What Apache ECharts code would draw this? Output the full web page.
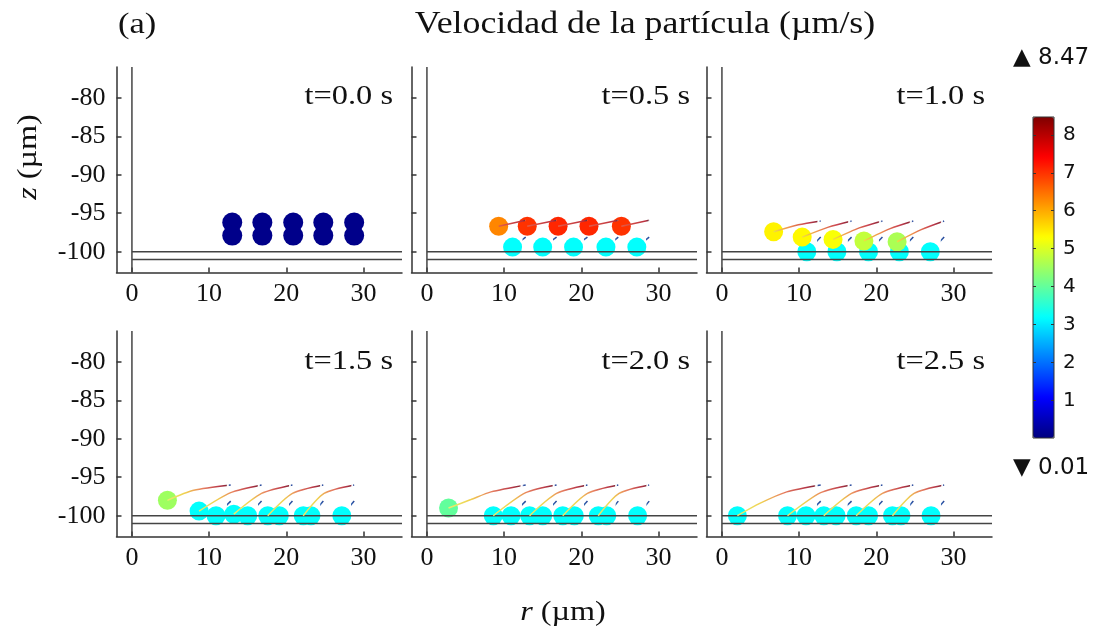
<!DOCTYPE html>
<html>
<head>
<meta charset="utf-8">
<script src="https://cdn.jsdelivr.net/npm/echarts@6/dist/echarts.min.js"></script>
<style>
html, body { margin: 0; padding: 0; background: #fff; }
#chart { width: 1114px; height: 630px; }
</style>
</head>
<body>
<div id="chart"></div>
<script>
// etiquetas y ticks
const panelTimes = ['t=0.0 s', 't=0.5 s', 't=1.0 s', 't=1.5 s', 't=2.0 s', 't=2.5 s'];
const rTicks = [0, 10, 20, 30];
const zTicks = [-100, -95, -90, -85, -80];
const colorbarTicks = [1, 2, 3, 4, 5, 6, 7, 8];
const vMin = 0.01, vMax = 8.47;

// geometria: pared r=0 y superficies z
const wallR = 0;
const surfaceZ = [-100, -101];

// particulas [r, z, velocidad]
const particles00 = [
    [13.0, -96.2, 0.1], [16.9, -96.2, 0.1], [20.9, -96.2, 0.1], [24.8, -96.2, 0.1], [28.8, -96.2, 0.1],
    [13.0, -97.9, 0.1], [16.9, -97.9, 0.1], [20.9, -97.9, 0.1], [24.8, -97.9, 0.1], [28.8, -97.9, 0.1]
];
const particles05 = [
    [11.1, -99.4, 3.2], [15.0, -99.4, 3.2], [19.0, -99.4, 3.2], [23.2, -99.4, 3.2], [27.2, -99.4, 3.2],
    [9.3, -96.7, 6.3], [13.0, -96.7, 7.0], [17.0, -96.7, 7.1], [21.0, -96.7, 7.1], [25.2, -96.7, 7.0]
];
const particles10 = [
    [11.0, -100.0, 3.2], [14.9, -100.0, 3.2], [19.0, -100.0, 3.2], [23.0, -100.0, 3.2], [27.0, -100.0, 3.2],
    [6.7, -97.4, 5.4], [10.4, -98.1, 5.35], [14.4, -98.4, 5.25], [18.4, -98.6, 4.8], [22.7, -98.7, 4.6]
];
const particles15 = [
    [8.7, -99.4, 3.2], [10.9, -100.0, 3.2], [13.2, -99.8, 3.2], [15.0, -100.0, 3.2], [17.6, -100.0, 3.2],
    [19.1, -100.0, 3.2], [22.2, -100.0, 3.2], [23.2, -100.0, 3.2], [27.2, -100.0, 3.2],
    [4.6, -98.0, 4.5]
];
const particles20 = [
    [8.6, -100.0, 3.2], [10.9, -100.0, 3.2], [13.3, -100.0, 3.2], [15.0, -100.0, 3.2], [17.6, -100.0, 3.2],
    [19.1, -100.0, 3.2], [22.2, -100.0, 3.2], [23.3, -100.0, 3.2], [27.3, -100.0, 3.2],
    [2.8, -99.0, 4.0]
];
const particles25 = [
    [2.0, -100.0, 3.2], [8.5, -100.0, 3.2], [10.9, -100.0, 3.2], [13.2, -100.0, 3.2], [14.8, -100.0, 3.2],
    [17.4, -100.0, 3.2], [19.0, -100.0, 3.2], [22.1, -100.0, 3.2], [23.2, -100.0, 3.2], [27.1, -100.0, 3.2]
];

// trayectorias [r, z] (fila superior e inferior)
const trailsUp05 = [
    [[9.3, -96.7], [12.8, -95.9]],
    [[13.0, -96.7], [16.8, -95.9]],
    [[17.0, -96.7], [20.8, -95.9]],
    [[21.0, -96.7], [24.8, -95.9]],
    [[25.2, -96.7], [28.8, -95.9]]
];
const trailsLow05 = [
    [[11.1, -99.4], [12.8, -98.1]],
    [[15.0, -99.4], [16.8, -98.1]],
    [[19.0, -99.4], [20.8, -98.1]],
    [[23.2, -99.4], [24.8, -98.1]],
    [[27.2, -99.4], [28.8, -98.1]]
];
const trailsUp10 = [
    [[6.7, -97.4], [9.9, -96.5], [12.8, -96.0]],
    [[10.4, -98.1], [13.8, -96.8], [16.8, -96.0]],
    [[14.4, -98.4], [17.8, -96.9], [20.8, -96.0]],
    [[18.4, -98.6], [21.8, -97.0], [24.8, -96.0]],
    [[22.7, -98.7], [25.9, -97.1], [28.8, -96.0]]
];
const trailsLow10 = [
    [[11.0, -100.0], [12.8, -98.1]],
    [[14.9, -100.0], [16.8, -98.1]],
    [[19.0, -100.0], [20.8, -98.1]],
    [[23.0, -100.0], [24.8, -98.1]],
    [[27.0, -100.0], [28.8, -98.1]]
];
const trailsUp15 = [
    [[4.6, -98.0], [8.0, -96.7], [12.8, -96.0]],
    [[8.7, -99.4], [12.8, -97.0], [16.8, -96.0]],
    [[13.2, -99.8], [16.8, -97.1], [20.8, -96.0]],
    [[17.6, -100.0], [20.8, -97.1], [24.8, -96.0]],
    [[22.2, -100.0], [24.9, -97.1], [28.8, -96.0]]
];
const trailsLow15 = [
    [[10.9, -100.0], [12.8, -98.1]],
    [[15.0, -100.0], [16.8, -98.1]],
    [[19.1, -100.0], [20.8, -98.1]],
    [[23.2, -100.0], [24.8, -98.1]],
    [[27.2, -100.0], [28.8, -98.1]]
];
const trailsUp20 = [
    [[2.8, -99.0], [5.7, -97.9], [8.3, -96.9], [12.8, -96.0]],
    [[8.6, -100.0], [12.8, -97.0], [16.8, -96.0]],
    [[13.3, -100.0], [16.8, -97.1], [20.8, -96.0]],
    [[17.6, -100.0], [20.8, -97.1], [24.8, -96.0]],
    [[22.2, -100.0], [24.9, -97.1], [28.8, -96.0]]
];
const trailsLow20 = [
    [[10.9, -100.0], [12.8, -98.1]],
    [[15.0, -100.0], [16.8, -98.1]],
    [[19.1, -100.0], [20.8, -98.1]],
    [[23.3, -100.0], [24.8, -98.1]],
    [[27.3, -100.0], [28.8, -98.1]]
];
const trailsUp25 = [
    [[2.0, -100.0], [4.9, -98.4], [8.4, -96.9], [12.8, -96.0]],
    [[8.5, -100.0], [12.8, -97.0], [16.8, -96.0]],
    [[13.2, -100.0], [16.8, -97.1], [20.8, -96.0]],
    [[17.4, -100.0], [20.8, -97.1], [24.8, -96.0]],
    [[22.1, -100.0], [24.9, -97.1], [28.8, -96.0]]
];
const trailsLow25 = [
    [[10.9, -100.0], [12.8, -98.1]],
    [[14.8, -100.0], [16.8, -98.1]],
    [[19.0, -100.0], [20.8, -98.1]],
    [[23.2, -100.0], [24.8, -98.1]],
    [[27.1, -100.0], [28.8, -98.1]]
];

const panelParticles = [particles00, particles05, particles10, particles15, particles20, particles25];
const panelTrailsUp = [[], trailsUp05, trailsUp10, trailsUp15, trailsUp20, trailsUp25];
const panelTrailsLow = [[], trailsLow05, trailsLow10, trailsLow15, trailsLow20, trailsLow25];

// layout
const rMin = -2, rMax = 35, zMin = -102.7, zMax = -76;
const colLeft = [116.5, 411.5, 706.5];
const rowTop = [67, 331];
const gridW = 285.5, gridH = 205.5;
const serif = 'Liberation Serif';
const axisColor = '#333';

// jet (rainbow de COMSOL)
const jet = ['#00007f', '#0000ff', '#007fff', '#00ffff', '#7fff7f', '#ffff00', '#ff7f00', '#ff0000', '#7f0000'];

const gradient = stops => ({
    type: 'linear', x: 0, y: 0, x2: 1, y2: 0,
    colorStops: stops.map(s => ({ offset: s[0], color: s[1] }))
});
const stopsEarly = [[0, '#e86048'], [0.82, '#b83040'], [0.9, '#703040'], [0.92, 'rgba(255,255,255,0)'], [0.94, '#304890'], [1, '#304890']];
const stopsMid = [[0, '#f0e840'], [0.35, '#f09050'], [0.7, '#c84050'], [0.88, '#902838'], [0.91, 'rgba(255,255,255,0)'], [0.94, '#3050a0'], [1, '#3050a0']];
const stopsLate = [[0, '#e8f070'], [0.3, '#f0d050'], [0.55, '#e88060'], [0.8, '#b83848'], [0.9, '#882838'], [0.92, 'rgba(255,255,255,0)'], [0.945, '#3050a0'], [1, '#3050a0']];
const stopsLow = [[0, 'rgba(255,255,255,0)'], [0.65, 'rgba(255,255,255,0)'], [0.7, '#3060b0'], [1, '#203080']];
const panelStops = [null, stopsEarly, stopsMid, stopsLate, stopsLate, stopsLate];

const grids = [], xAxes = [], yAxes = [], series = [], scatterIdx = [], graphics = [];

for (let i = 0; i < 6; i++) {
    const col = i % 3, row = Math.floor(i / 3);
    grids.push({ left: colLeft[col], top: rowTop[row], width: gridW, height: gridH });
    xAxes.push({
        gridIndex: i, type: 'value', min: rMin, max: rMax, position: 'bottom',
        axisLine: { onZero: false, lineStyle: { color: axisColor, width: 1.5 } },
        axisTick: { inside: true, length: 5, customValues: rTicks, lineStyle: { color: axisColor, width: 1.5 } },
        axisLabel: { customValues: rTicks, margin: 9, fontFamily: serif, fontSize: 26, color: '#111' },
        splitLine: { show: false }
    });
    yAxes.push({
        gridIndex: i, type: 'value', min: zMin, max: zMax,
        axisLine: { onZero: false, lineStyle: { color: axisColor, width: 1.5 } },
        axisTick: { inside: true, length: 5, customValues: zTicks, lineStyle: { color: axisColor, width: 1.5 } },
        axisLabel: { show: col === 0, customValues: zTicks, margin: 11, fontFamily: serif, fontSize: 26, color: '#111' },
        splitLine: { show: false }
    });

    // pared y superficies
    const geo = { type: 'line', xAxisIndex: i, yAxisIndex: i, symbol: 'none', silent: true, clip: false,
        lineStyle: { color: '#444', width: 1.5 } };
    series.push(Object.assign({}, geo, { data: [[wallR, zMax], [wallR, zMin]] }));
    surfaceZ.forEach(z => series.push(Object.assign({}, geo, { data: [[wallR, z], [rMax, z]] })));

    // trayectorias
    panelTrailsLow[i].forEach(tr => series.push({
        type: 'line', xAxisIndex: i, yAxisIndex: i, symbol: 'none', silent: true, smooth: 0.25,
        data: tr, lineStyle: { width: 1.5, color: gradient(stopsLow) }
    }));
    panelTrailsUp[i].forEach(tr => series.push({
        type: 'line', xAxisIndex: i, yAxisIndex: i, symbol: 'none', silent: true, smooth: 0.25,
        data: tr, lineStyle: { width: 1.5, color: gradient(panelStops[i]) }
    }));

    // particulas
    scatterIdx.push(series.length);
    series.push({
        type: 'scatter', xAxisIndex: i, yAxisIndex: i, symbolSize: i === 0 ? 20 : 19,
        data: panelParticles[i], itemStyle: { opacity: 1 }, silent: true
    });

    // etiqueta de tiempo
    graphics.push({
        type: 'text', x: [393, 690, 985][col], y: [97, 362][row], scaleX: 1.2,
        style: { text: panelTimes[i], fontFamily: serif, fontSize: 27, fill: '#111',
            textAlign: 'right', align: 'right', textVerticalAlign: 'middle', verticalAlign: 'middle' }
    });
}

// barra de color
grids.push({ left: 1033, top: 117, width: 21, height: 321, show: true, borderColor: '#333', borderWidth: 1,
    backgroundColor: 'transparent', z: 10 });
xAxes.push({ gridIndex: 6, type: 'value', show: false, min: 0, max: 1 });
yAxes.push({
    gridIndex: 6, type: 'value', min: vMin, max: vMax, position: 'left', z: 10,
    axisLine: { show: false }, axisLabel: { show: false }, splitLine: { show: false },
    axisTick: { inside: true, length: 3, customValues: colorbarTicks, lineStyle: { color: '#333' } }
});
yAxes.push({
    gridIndex: 6, type: 'value', min: vMin, max: vMax, position: 'right', z: 10,
    axisLine: { show: false }, splitLine: { show: false },
    axisTick: { inside: true, length: 3, customValues: colorbarTicks, lineStyle: { color: '#333' } },
    axisLabel: { customValues: colorbarTicks, margin: 9, fontFamily: 'DejaVu Sans', fontSize: 20, color: '#111' }
});

const txt = (x, y, text, size, family, align, extra) => Object.assign({
    type: 'text', x: x, y: y,
    style: { text: text, fontFamily: family, fontSize: size, fill: '#111',
        textAlign: align, align: align, textVerticalAlign: 'middle', verticalAlign: 'middle',
        rich: { i: { fontStyle: 'italic', fontFamily: family, fontSize: size, fill: '#111' } } }
}, extra || {});

graphics.push(txt(645, 25, 'Velocidad de la partícula (µm/s)', 32, serif, 'center', { scaleX: 1.12 }));
graphics.push(txt(118, 25, '(a)', 30, serif, 'left', { scaleX: 1.15 }));
graphics.push(txt(29, 157, '{i|z} (µm)', 28, serif, 'center', { rotation: Math.PI / 2, scaleX: 1.15 }));
graphics.push(txt(563, 613, '{i|r} (µm)', 28, serif, 'center', { scaleX: 1.15 }));
graphics.push(txt(1013, 58, '▲ 8.47', 23, 'DejaVu Sans', 'left'));
graphics.push(txt(1013, 468, '▼ 0.01', 23, 'DejaVu Sans', 'left'));

const chart = echarts.init(document.getElementById('chart'));
chart.setOption({
    backgroundColor: '#fff',
    animation: false,
    grid: grids,
    xAxis: xAxes,
    yAxis: yAxes,
    visualMap: {
        type: 'continuous', min: vMin, max: vMax, dimension: 2, seriesIndex: scatterIdx,
        orient: 'vertical', left: 1033, top: 117, itemWidth: 21, itemHeight: 321, padding: 0,
        calculable: false, text: null, hoverLink: false,
        inRange: { color: jet }
    },
    graphic: graphics,
    series: series
});
</script>
</body>
</html>
